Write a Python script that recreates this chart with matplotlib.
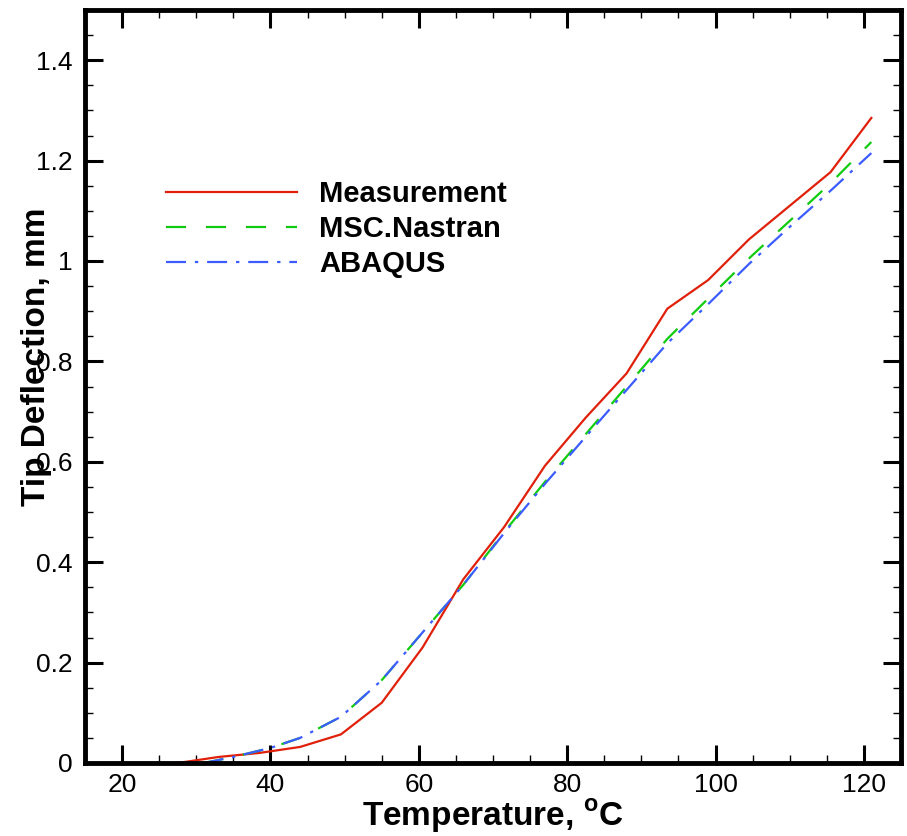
import matplotlib.pyplot as plt
from matplotlib.ticker import MultipleLocator, FormatStrFormatter

plt.rcParams['font.family'] = ['Liberation Sans', 'DejaVu Sans']

# measured tip deflection
temp_meas = [27.5, 33, 38.5, 44, 49.5, 55, 60.5, 66, 71.5, 77, 82.5, 88, 93.5, 99,
             104.5, 110, 115.5, 121]
defl_meas = [0.0, 0.012, 0.02, 0.032, 0.057, 0.12, 0.23, 0.366, 0.47, 0.592, 0.688,
             0.776, 0.905, 0.962, 1.043, 1.11, 1.177, 1.285]

# simulations
temp_sim = [31, 35, 40, 44, 49.5, 55, 60.5, 66, 71.5, 77, 82.5, 88, 93.5, 99,
            104.5, 110, 115.5, 121]
defl_nastran = [0.0, 0.012, 0.03, 0.05, 0.092, 0.165, 0.26, 0.355, 0.46, 0.56, 0.655,
                0.75, 0.845, 0.925, 1.005, 1.08, 1.155, 1.237]
defl_abaqus = [0.0, 0.012, 0.03, 0.05, 0.092, 0.165, 0.26, 0.355, 0.458, 0.556, 0.65,
               0.743, 0.836, 0.914, 0.994, 1.068, 1.14, 1.215]

red = '#e0200a'
green = '#10cc10'
blue = '#3c5cff'

fig = plt.figure(figsize=(9.07, 8.36), dpi=100)
ax = fig.add_axes([85 / 907, 1 - 763 / 836, 816 / 907, 753 / 836])

ax.plot(temp_meas, defl_meas, color=red, lw=1.6, label='Measurement')
ln_n, = ax.plot(temp_sim, defl_nastran, color=green, lw=1.6, label='MSC.Nastran')
ln_n.set_dashes((9, 9))
ln_a, = ax.plot(temp_sim, defl_abaqus, color=blue, lw=1.6, label='ABAQUS')
ln_a.set_dashes((9, 4, 1.5, 4))

ax.set_xlim(15, 125)
ax.set_ylim(0, 1.5)
ax.xaxis.set_major_locator(MultipleLocator(20))
ax.xaxis.set_minor_locator(MultipleLocator(5))
ax.yaxis.set_major_locator(MultipleLocator(0.2))
ax.yaxis.set_minor_locator(MultipleLocator(0.05))
ax.yaxis.set_major_formatter(FormatStrFormatter('%g'))

ax.tick_params(which='both', direction='in', top=True, right=True, labelsize=19)
ax.tick_params(which='major', length=13, width=2.2)
ax.tick_params(which='minor', length=6, width=1)
ax.tick_params(axis='x', which='major', pad=7)
ax.tick_params(axis='y', which='major', pad=9)
for sp in ax.spines.values():
    sp.set_linewidth(3.5)

ax.set_xlabel('Temperature, $^{\\mathregular{o}}$C', fontsize=24, fontweight='bold')
ax.xaxis.set_label_coords(0.5, -0.046)
ax.set_ylabel('Tip Deflection, mm', fontsize=24, fontweight='bold')
ax.yaxis.set_label_coords(-0.04, 0.54)

ax.legend(loc='upper left', bbox_to_anchor=(0.099, 0.774), frameon=False,
          prop={'size': 21, 'weight': 'bold'}, handlelength=4.5,
          handletextpad=0.75, labelspacing=0.24, borderpad=0, borderaxespad=0)

fig.savefig('out.png', dpi=100)
